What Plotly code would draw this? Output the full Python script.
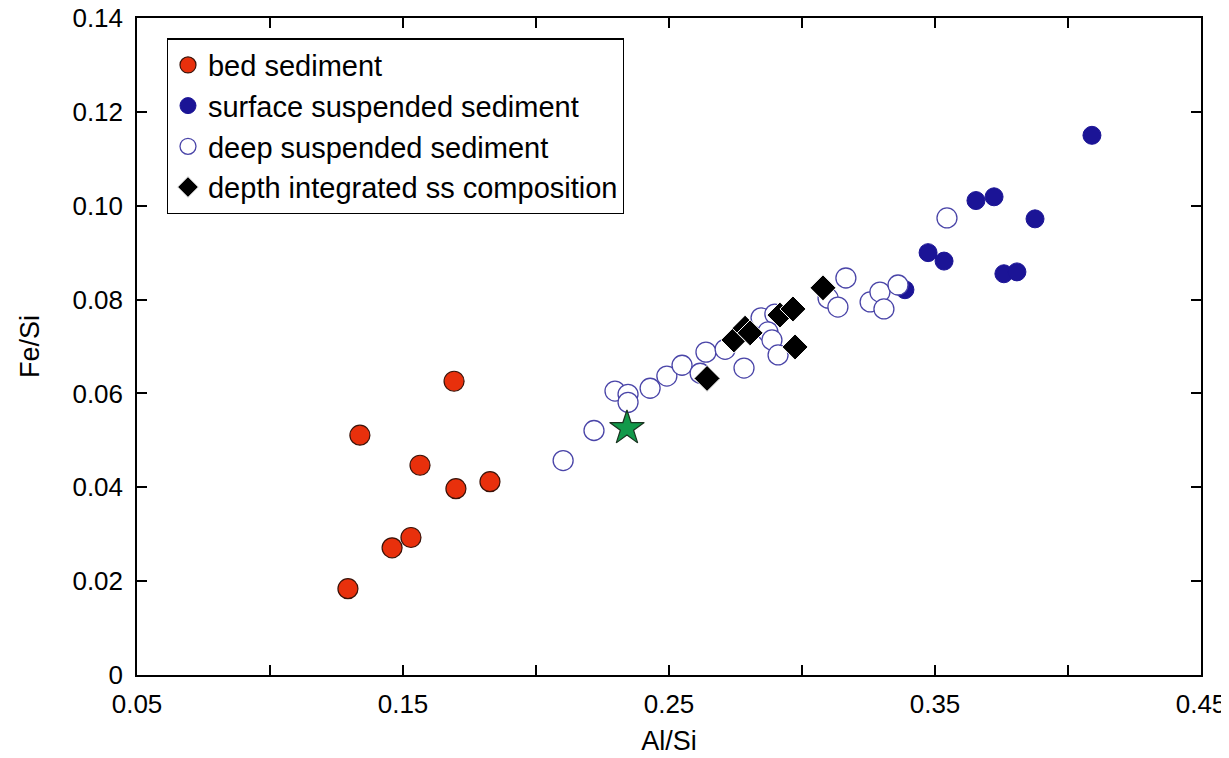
import plotly.graph_objects as go

# bed sediment
bed_x = [0.1293, 0.1338, 0.1459, 0.1530, 0.1564, 0.1692, 0.1699, 0.1827]
bed_y = [0.0184, 0.0511, 0.0271, 0.0293, 0.0447, 0.0626, 0.0397, 0.0412]

# surface suspended sediment
surf_x = [0.4090, 0.3654, 0.3722, 0.3876, 0.3474, 0.3534, 0.3759, 0.3808, 0.3387]
surf_y = [0.1150, 0.1011, 0.1019, 0.0972, 0.0900, 0.0882, 0.0855, 0.0859, 0.0821]

# deep suspended sediment
deep_x = [0.2102, 0.2218, 0.2297, 0.2346, 0.2346, 0.2429, 0.2492, 0.2549, 0.2617,
          0.2639, 0.2711, 0.2782, 0.2846, 0.2898, 0.2872, 0.2887, 0.2910, 0.3098,
          0.3135, 0.3165, 0.3256, 0.3293, 0.3308, 0.3361, 0.3545]
deep_y = [0.0457, 0.0521, 0.0605, 0.0598, 0.0581, 0.0611, 0.0637, 0.0660, 0.0643,
          0.0688, 0.0694, 0.0654, 0.0761, 0.0769, 0.0731, 0.0714, 0.0682, 0.0803,
          0.0784, 0.0846, 0.0795, 0.0816, 0.0780, 0.0831, 0.0974]

# depth integrated ss composition
dint_x = [0.2643, 0.2744, 0.2786, 0.2805, 0.2917, 0.2966, 0.2974, 0.3079]
dint_y = [0.0632, 0.0714, 0.0739, 0.0729, 0.0767, 0.0780, 0.0699, 0.0825]

# star
star_x = [0.2342]
star_y = [0.0526]

x_tickvals = [0.05, 0.10, 0.15, 0.20, 0.25, 0.30, 0.35, 0.40, 0.45]
x_ticktext = ["0.05", "", "0.15", "", "0.25", "", "0.35", "", "0.45"]
y_tickvals = [0, 0.02, 0.04, 0.06, 0.08, 0.10, 0.12, 0.14]
y_ticktext = ["0", "0.02", "0.04", "0.06", "0.08", "0.10", "0.12", "0.14"]

FONT = "Arial, Liberation Sans, sans-serif"

fig = go.Figure()
fig.add_trace(go.Scatter(x=bed_x, y=bed_y, mode="markers", name="bed sediment",
                         marker=dict(symbol="circle", size=20, color="#E8300C",
                                     line=dict(color="#3a1208", width=1.2))))
fig.add_trace(go.Scatter(x=surf_x, y=surf_y, mode="markers", name="surface suspended sediment",
                         marker=dict(symbol="circle", size=18, color="#1B1496",
                                     line=dict(color="#1B1496", width=1))))
fig.add_trace(go.Scatter(x=deep_x, y=deep_y, mode="markers", name="deep suspended sediment",
                         marker=dict(symbol="circle", size=20, color="white",
                                     line=dict(color="#4A45A8", width=1.3))))
fig.add_trace(go.Scatter(x=dint_x, y=dint_y, mode="markers", name="depth integrated ss composition",
                         marker=dict(symbol="diamond", size=20, color="black",
                                     line=dict(color="white", width=1))))
fig.add_trace(go.Scatter(x=star_x, y=star_y, mode="markers", showlegend=False,
                         marker=dict(symbol="star", size=26, color="#12994A",
                                     line=dict(color="#1a3320", width=1.2))))

axis_common = dict(showline=True, linecolor="black", linewidth=1.5, mirror="ticks",
                   ticks="inside", ticklen=10, tickwidth=1.5, tickcolor="black",
                   showgrid=False, zeroline=False, automargin=False,
                   ticklabeloverflow="allow",
                   tickfont=dict(family=FONT, size=26, color="black"))

fig.update_xaxes(range=[0.05, 0.45], tickmode="array", tickvals=x_tickvals, ticktext=x_ticktext,
                 ticklabelstandoff=5,
                 title=dict(text="Al/Si", font=dict(family=FONT, size=27, color="black"), standoff=13),
                 **axis_common)
fig.update_yaxes(range=[0, 0.14], tickmode="array", tickvals=y_tickvals, ticktext=y_ticktext,
                 ticklabelstandoff=7,
                 title=dict(text="Fe/Si", font=dict(family=FONT, size=27, color="black"), standoff=25),
                 **axis_common)

fig.update_layout(
    width=1221, height=750,
    margin=dict(l=129, r=28, t=10, b=83),
    paper_bgcolor="white", plot_bgcolor="white",
    font=dict(family=FONT, color="black"),
    legend=dict(x=0.028, y=0.969, xanchor="left", yanchor="top",
                bgcolor="white", bordercolor="black", borderwidth=1.2,
                font=dict(family=FONT, size=29, color="black"),
                itemsizing="trace", tracegroupgap=0),
)

fig.write_html("out.html")
